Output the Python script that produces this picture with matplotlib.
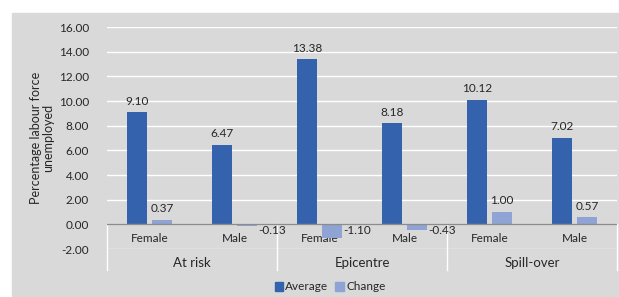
import numpy as np
import matplotlib
matplotlib.use("Agg")
import matplotlib.pyplot as plt
from matplotlib.patches import Rectangle, Patch

plt.rcParams['font.family'] = ['Lato', 'DejaVu Sans']
plt.rcParams['font.size'] = 8.5

# data
groups = ["At risk", "Epicentre", "Spill-over"]
sexes = ["Female", "Male", "Female", "Male", "Female", "Male"]
average = [9.10, 6.47, 13.38, 8.18, 10.12, 7.02]
change = [0.37, -0.13, -1.10, -0.43, 1.00, 0.57]
yticks = [-2, 0, 2, 4, 6, 8, 10, 12, 14, 16]

c_avg = '#3462ad'
c_chg = '#8fa4d5'
bg = '#d9d9d9'
txt = '#262626'

fig = plt.figure(figsize=(6.19, 2.97), dpi=100)
fig.patches.append(Rectangle((12 / 619, 0), 1, (297 - 13) / 297,
                             transform=fig.transFigure, color=bg, zorder=-10))

ax = fig.add_axes([107 / 619, (297 - 249) / 297, (617 - 107) / 619, (249 - 27) / 297])
ax.set_facecolor('none')

x = np.arange(len(sexes))
w = 0.24
off = 0.145

# category labels first so bars overlap them like the original
for xi, s in zip(x, sexes):
    ax.text(xi, -1.15, s, ha='center', va='center', color=txt, zorder=1)

ax.bar(x - off, average, w, color=c_avg, zorder=3, label='Average')
ax.bar(x + off, change, w, color=c_chg, zorder=3, label='Change')

for xi, v in zip(x, average):
    ax.annotate(f"{v:.2f}", (xi - off, v), xytext=(0, 4), textcoords='offset points',
                ha='center', va='bottom', color=txt)
for xi, v in zip(x, change):
    if v >= 0:
        ax.annotate(f"{v:.2f}", (xi + off, v), xytext=(0, 4), textcoords='offset points',
                    ha='center', va='bottom', color=txt)
    else:
        ax.annotate(f"{v:.2f}", (xi + off + w / 2, -0.5), xytext=(1, 0), textcoords='offset points',
                    ha='left', va='center', color=txt)

ax.set_xlim(-0.5, len(sexes) - 0.5)
ax.set_ylim(-2, 16)
ax.set_yticks(yticks)
ax.set_yticklabels([f"{t:.2f}" for t in yticks], color=txt)
ax.tick_params(axis='y', length=0, pad=13)
ax.set_xticks([])
ax.grid(axis='y', color='white', linewidth=1, zorder=0)
ax.set_axisbelow(True)
for s in ax.spines.values():
    s.set_visible(False)
ax.axhline(0, color='#8c8c8c', linewidth=1, zorder=4)

# multi-level category axis
for b in [-0.5, 1.5, 3.5, 5.5]:
    ax.plot([b, b], [0, -3.7], color='white', linewidth=1, clip_on=False, zorder=2)
for gi, g in enumerate(groups):
    ax.text(2 * gi + 0.5, -3.15, g, ha='center', va='center', color=txt,
            fontsize=9.5, clip_on=False)

ax.set_ylabel("Percentage labour force\nunemployed", color=txt, fontsize=9, labelpad=3,
              linespacing=1.05)

handles = [Patch(color=c_avg, label='Average'), Patch(color=c_chg, label='Change')]
fig.legend(handles=handles, loc='center', bbox_to_anchor=(330 / 619, 1 - 287 / 297), ncol=2,
           frameon=False, handlelength=0.7, handleheight=0.7, handletextpad=0.2,
           columnspacing=0.6, fontsize=8.5, labelcolor=txt)

fig.savefig("out.png", dpi=100)
